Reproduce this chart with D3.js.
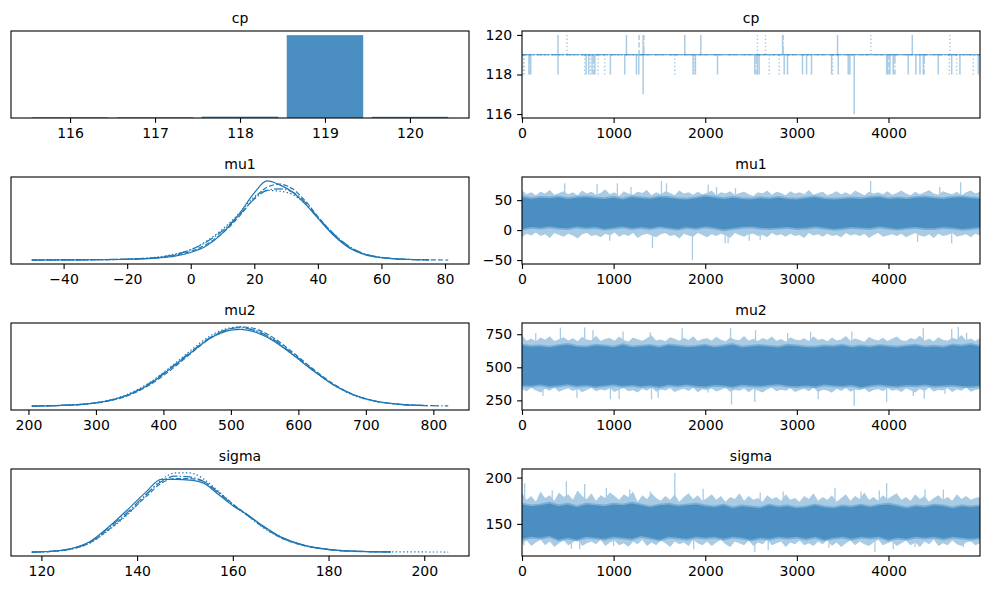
<!DOCTYPE html>
<html>
<head>
<meta charset="utf-8">
<script src="https://cdn.jsdelivr.net/npm/d3@7/dist/d3.min.js"></script>
<style>
body { margin: 0; background: #fff; }
svg { display: block; font-family: "DejaVu Sans", sans-serif; }
</style>
</head>
<body>
<svg width="989" height="590"></svg>
<script>
// ---- data ----
var varNames = ["cp", "mu1", "mu2", "sigma"];

// cp: discrete posterior, share of draws per value
var cpValues = [116, 117, 118, 119, 120];
var cpFreq = [0.008, 0.008, 0.016, 0.97, 0.014];

// cp trace: mostly sits at 119, these are the jumps (iteration, value, chain)
var cpJumpIter = [393, 491, 1140, 1278, 1322, 1330, 1777, 1952, 2570, 2658, 2844, 2850, 3444, 3808, 4260, 4671,
  15, 25, 76, 85, 95, 393, 684, 700, 728, 745, 765, 783, 795, 830, 903, 965, 1121, 1249, 1274, 1668, 1868, 1880,
  1893, 2134, 2541, 2555, 2570, 2588, 2698, 2807, 2862, 2898, 3062, 3106, 3160, 3379, 3390, 3452, 3561, 3579,
  3980, 3990, 4005, 4016, 4052, 4070, 4216, 4300, 4344, 4380, 4390, 4544, 4664, 4690, 4744, 4780, 4926, 4981,
  1322, 3626];
var cpJumpValue = [120, 120, 120, 120, 120, 120, 120, 120, 120, 120, 120, 120, 120, 120, 120, 120,
  118, 118, 118, 118, 118, 118, 118, 118, 118, 118, 118, 118, 118, 118, 118, 118, 118, 118, 118, 118, 118, 118,
  118, 118, 118, 118, 118, 118, 118, 118, 118, 118, 118, 118, 118, 118, 118, 118, 118, 118,
  118, 118, 118, 118, 118, 118, 118, 118, 118, 118, 118, 118, 118, 118, 118, 118, 118, 118,
  117, 116];
var cpJumpChain = [0, 3, 0, 1, 0, 2, 0, 0, 3, 3, 0, 2, 0, 3, 0, 3,
  3, 3, 0, 2, 0, 0, 3, 0, 0, 3, 0, 2, 0, 3, 3, 0, 0, 0, 0, 3, 0, 3,
  0, 0, 0, 2, 0, 0, 3, 3, 0, 0, 0, 0, 0, 0, 3, 0, 0, 0,
  0, 0, 1, 0, 0, 2, 0, 0, 0, 0, 2, 0, 3, 0, 3, 0, 3, 0,
  0, 0];

// kde curves, relative density per chain (null = outside that chain's samples)
var mu1Grid = [-50, -40, -30, -20, -15, -10, -5, 0, 5, 10, 15, 20, 24, 28, 32, 36, 40, 45, 50, 55, 60, 65, 70, 75, 81];
var mu1Chain0 = [0, 0.002, 0.004, 0.01, 0.016, 0.028, 0.05, 0.095, 0.18, 0.34, 0.57, 0.85, 1.0, 0.95, 0.86, 0.71, 0.53, 0.31, 0.15, 0.065, 0.03, 0.013, 0.006, 0.002, null];
var mu1Chain1 = [0, 0.001, 0.004, 0.01, 0.017, 0.03, 0.06, 0.11, 0.2, 0.34, 0.54, 0.78, 0.92, 0.96, 0.9, 0.75, 0.55, 0.33, 0.16, 0.07, 0.032, 0.015, 0.007, 0.003, 0];
var mu1Chain2 = [0, 0.002, 0.005, 0.012, 0.02, 0.035, 0.07, 0.13, 0.23, 0.37, 0.56, 0.77, 0.88, 0.9, 0.86, 0.73, 0.54, 0.33, 0.17, 0.075, 0.034, 0.015, 0.006, 0.002, null];
var mu1Chain3 = [0, 0.002, 0.005, 0.012, 0.022, 0.04, 0.075, 0.13, 0.24, 0.39, 0.58, 0.8, 0.88, 0.87, 0.83, 0.71, 0.53, 0.32, 0.16, 0.072, 0.032, 0.014, 0.006, 0.002, null];

var mu2Grid = [205, 250, 300, 350, 380, 410, 440, 470, 500, 515, 530, 560, 590, 620, 650, 680, 710, 750, 790, 822];
var mu2Chain0 = [0, 0.008, 0.04, 0.15, 0.28, 0.47, 0.67, 0.86, 0.96, 0.97, 0.95, 0.84, 0.66, 0.46, 0.28, 0.15, 0.07, 0.022, 0.005, null];
var mu2Chain1 = [0, 0.008, 0.038, 0.14, 0.27, 0.45, 0.66, 0.86, 0.98, 1.0, 0.99, 0.88, 0.69, 0.48, 0.29, 0.15, 0.07, 0.023, 0.006, null];
var mu2Chain2 = [0, 0.009, 0.042, 0.15, 0.29, 0.48, 0.68, 0.87, 0.98, 0.99, 0.97, 0.86, 0.67, 0.47, 0.28, 0.15, 0.068, 0.022, 0.006, 0.001];
var mu2Chain3 = [0, 0.009, 0.042, 0.16, 0.3, 0.49, 0.7, 0.89, 0.99, 1.0, 0.97, 0.85, 0.66, 0.46, 0.28, 0.14, 0.066, 0.021, 0.005, null];

var sigmaGrid = [118, 122, 126, 130, 134, 138, 142, 145, 148, 151, 154, 157, 160, 163, 166, 170, 175, 180, 185, 193, 200, 205];
var sigmaChain0 = [0, 0.01, 0.04, 0.125, 0.31, 0.53, 0.76, 0.91, 0.91, 0.9, 0.86, 0.72, 0.58, 0.47, 0.34, 0.19, 0.085, 0.034, 0.012, 0.001, null, null];
var sigmaChain1 = [0, 0.008, 0.035, 0.11, 0.28, 0.48, 0.7, 0.86, 0.92, 0.92, 0.88, 0.75, 0.6, 0.47, 0.33, 0.18, 0.08, 0.032, 0.012, 0.002, null, null];
var sigmaChain2 = [0, 0.009, 0.038, 0.12, 0.3, 0.5, 0.73, 0.88, 0.95, 0.94, 0.88, 0.74, 0.59, 0.46, 0.33, 0.19, 0.082, 0.03, 0.01, 0.001, null, null];
var sigmaChain3 = [0, 0.008, 0.034, 0.11, 0.27, 0.47, 0.72, 0.9, 0.99, 0.99, 0.91, 0.76, 0.6, 0.46, 0.32, 0.18, 0.078, 0.03, 0.011, 0.003, 0.001, 0];

// trace bands: outer light fringe (every 50 iterations) and dense core (every 100)
var mu1OuterHi = [66, 60, 63, 58, 64, 61, 67, 59, 62, 65, 60, 63, 58, 66, 61, 64, 59, 62, 68, 60,
  63, 57, 65, 61, 59, 64, 62, 67, 58, 63, 60, 65, 62, 58, 66, 61, 63, 59, 64, 60,
  62, 66, 58, 63, 61, 65, 59, 62, 64, 60, 57, 63, 61, 66, 59, 64, 62, 58, 65, 61,
  63, 60, 67, 59, 62, 64, 58, 61, 65, 60, 63, 59, 66, 62, 58, 64, 61, 63, 60, 65,
  59, 62, 66, 61, 58, 64, 60, 63, 67, 61, 59, 65, 62, 60, 64, 58, 63, 66, 61, 64];
var mu1OuterLo = [-12, -6, -9, -4, -10, -7, -13, -5, -8, -11, -6, -9, -14, -7, -5, -10, -8, -12, -6, -9,
  -4, -11, -7, -10, -5, -13, -8, -6, -9, -12, -7, -5, -10, -8, -14, -6, -9, -11, -5, -8,
  -12, -7, -10, -6, -9, -13, -5, -8, -11, -7, -6, -10, -8, -12, -5, -9, -7, -11, -6, -10,
  -8, -13, -5, -9, -7, -11, -6, -10, -8, -12, -5, -9, -7, -10, -6, -13, -8, -5, -11, -9,
  -7, -10, -6, -12, -8, -5, -9, -11, -7, -13, -6, -10, -8, -5, -11, -9, -7, -12, -6, -9];
var mu1CoreHi = [55, 52, 54, 53, 55, 52, 54, 55, 53, 52, 54, 51, 55, 53, 52, 55, 54, 52, 51, 53, 56, 54, 52, 54, 52, 51, 53, 52, 54, 52, 51, 53, 55, 52, 51, 52, 53, 52, 54, 55, 52, 53, 52, 54, 55, 53, 52, 54, 55, 53, 52];
var mu1CoreLo = [2, 5, 4, 6, 4, 3, 6, 4, 5, 2, 4, 6, 3, 5, 3, 6, 4, 2, 5, 3, 6, 4, 1, 3, 5, 6, 4, 3, 4, 5, 3, 4, 6, 4, 2, 3, 5, 4, 3, 6, 4, 2, 4, 5, 3, 3, 5, 4, 2, 3, 5];
var mu1SpikeIter = [466, 820, 1041, 1190, 1522, 1577, 2032, 2123, 2330, 3805, 4560, 4788, 958, 1424, 1860, 2218, 2250, 2480, 2600, 4318, 4690];
var mu1SpikeValue = [78, 77, 78, 72, 82, 78, 76, 72, 70, 82, 72, 80, -18, -30, -50, -22, -22, -18, -17, -20, -22];

var mu2OuterHi = [740, 700, 718, 695, 725, 708, 735, 698, 712, 728, 702, 720, 696, 730, 710, 705, 738, 699, 715, 722,
  700, 733, 707, 695, 726, 712, 700, 719, 742, 703, 710, 697, 728, 715, 701, 724, 706, 735, 698, 713,
  720, 702, 730, 709, 696, 725, 711, 704, 737, 700, 716, 698, 722, 708, 732, 701, 713, 695, 727, 710,
  704, 719, 699, 734, 707, 715, 697, 725, 703, 711, 736, 700, 718, 706, 694, 729, 712, 702, 724, 698,
  715, 733, 705, 699, 721, 710, 740, 702, 716, 697, 728, 708, 700, 723, 712, 745, 704, 718, 699, 720];
var mu2OuterLo = [335, 318, 345, 325, 310, 338, 322, 348, 315, 330, 342, 320, 336, 312, 328, 346, 318, 333, 324, 340,
  314, 330, 344, 319, 327, 310, 338, 322, 347, 316, 332, 325, 341, 313, 329, 337, 320, 345, 311, 334,
  326, 340, 317, 331, 343, 315, 328, 322, 339, 312, 336, 324, 309, 333, 345, 318, 330, 322, 341, 314,
  327, 338, 319, 346, 313, 330, 324, 308, 337, 321, 344, 316, 332, 326, 340, 312, 329, 335, 318, 343,
  322, 331, 314, 339, 326, 310, 336, 320, 345, 317, 330, 325, 341, 313, 334, 322, 347, 316, 329, 336];
var mu2CoreHi = [665, 655, 660, 650, 662, 670, 655, 652, 664, 660, 650, 668, 652, 658, 662, 650, 666, 660, 652, 656, 664, 650, 660, 670, 650, 658, 662, 655, 650, 665, 660, 652, 650, 660, 656, 664, 650, 660, 652, 662, 656, 650, 660, 664, 652, 658, 650, 666, 660, 670, 656];
var mu2CoreLo = [365, 360, 370, 356, 362, 372, 358, 366, 355, 362, 370, 358, 366, 356, 362, 352, 368, 360, 370, 358, 354, 366, 362, 352, 368, 362, 358, 366, 372, 360, 356, 362, 354, 370, 362, 358, 366, 350, 362, 370, 360, 356, 366, 362, 370, 358, 362, 366, 358, 354, 362];
var mu2SpikeIter = [150, 419, 684, 775, 1103, 1400, 1748, 2276, 2549, 2900, 3150, 3600, 4380, 4690, 4762, 4853,
  229, 600, 965, 1060, 1413, 1486, 2032, 2287, 2541, 3233, 3626, 3980, 4271, 4391, 4617];
var mu2SpikeValue = [760, 800, 800, 780, 770, 765, 795, 795, 780, 760, 770, 770, 795, 790, 805, 760,
  283, 270, 258, 258, 258, 270, 309, 219, 237, 258, 207, 237, 283, 262, 300];

var sigmaOuterHi = [183, 176, 180, 174, 185, 178, 181, 175, 184, 179, 182, 176, 186, 180, 177, 183, 175, 181, 178, 184,
  180, 176, 182, 179, 185, 174, 181, 177, 183, 178, 175, 180, 176, 182, 174, 179, 183, 177, 181, 175,
  178, 182, 176, 180, 174, 179, 177, 183, 175, 180, 176, 178, 174, 181, 177, 179, 175, 182, 176, 178,
  174, 180, 177, 183, 175, 179, 176, 181, 174, 178, 182, 175, 180, 177, 184, 176, 179, 175, 181, 177,
  180, 183, 176, 179, 175, 182, 177, 180, 174, 178, 181, 176, 179, 175, 182, 177, 180, 176, 178, 179];
var sigmaOuterLo = [128, 132, 126, 130, 133, 127, 131, 125, 129, 132, 127, 130, 134, 126, 129, 131, 128, 133, 126, 130,
  132, 127, 129, 125, 131, 128, 133, 126, 130, 127, 132, 129, 125, 131, 128, 130, 126, 133, 129, 127,
  131, 126, 130, 133, 128, 125, 131, 129, 127, 132, 126, 130, 128, 133, 127, 129, 131, 125, 130, 128,
  132, 127, 129, 126, 131, 128, 133, 126, 130, 125, 129, 132, 127, 131, 128, 126, 130, 133, 127, 129,
  131, 126, 129, 132, 127, 130, 125, 131, 128, 133, 126, 129, 127, 132, 128, 126, 130, 131, 127, 129];
var sigmaCoreHi = [171, 169, 170, 172, 169, 171, 168, 171, 170, 169, 171, 170, 172, 170, 168, 170, 171, 169, 170, 171, 169, 168, 170, 167, 169, 168, 167, 170, 168, 169, 167, 168, 170, 168, 167, 169, 168, 170, 168, 170, 171, 169, 167, 169, 168, 170, 169, 167, 169, 168, 169];
var sigmaCoreLo = [134, 136, 135, 137, 133, 135, 133, 136, 135, 134, 136, 135, 134, 137, 135, 133, 136, 135, 134, 136, 135, 136, 134, 136, 135, 133, 135, 134, 136, 135, 136, 134, 136, 133, 135, 136, 134, 136, 135, 136, 133, 135, 134, 136, 135, 136, 134, 136, 135, 134, 135];
var sigmaSpikeIter = [29, 330, 484, 684, 921, 1176, 1400, 1668, 1977, 2600, 2850, 3416, 3700, 3900, 3980, 4398, 4599,
  20, 539, 630, 1000, 1875, 2541, 2687, 3350, 3852, 4052, 4289, 4817];
var sigmaSpikeValue = [194, 186, 196, 193, 189, 187, 185, 205, 188, 184, 185, 189, 185, 186, 194, 187, 187,
  127, 123, 122.5, 126, 122.5, 119.6, 121.8, 124.3, 119.6, 122.5, 125, 125];

// tick labels
var cpDensTicks = [116, 117, 118, 119, 120];
var mu1DensTicks = [-40, -20, 0, 20, 40, 60, 80];
var mu2DensTicks = [200, 300, 400, 500, 600, 700, 800];
var sigmaDensTicks = [120, 140, 160, 180, 200];
var iterTicks = [0, 1000, 2000, 3000, 4000];
var cpTraceTicks = [116, 118, 120];
var mu1TraceTicks = [-50, 0, 50];
var mu2TraceTicks = [250, 500, 750];
var sigmaTraceTicks = [150, 200];

var nDraws = 5000;

// ---- layout ----
var rowTop = [31, 177, 323, 469];
var axH = 87;
var leftX = 11, rightX = 522, axW = 458;

var C0 = "#1f77b4";
var coreColor = "#4b8fc2";
var midColor = "#7aaed6";
var lightColor = "#a9cbe4";
var dashes = ["none", "5.1,2.2", "8.9,2.2,1.4,2.2", "1.4,2.3"];

var svg = d3.select("svg");

var fmt = function(d) { return String(d).replace("-", "\u2212"); };

var padded = function(lo, hi) {
  var r = hi - lo;
  return [lo - 0.05 * r, hi + 0.05 * r];
};

var styleAxis = function(g) {
  g.selectAll("path").remove();
  g.selectAll("line").attr("stroke", "#000").attr("stroke-width", 1.1);
  g.selectAll("text").attr("font-size", "14px").attr("fill", "#000")
    .attr("font-family", "DejaVu Sans, sans-serif");
};

var frame = function(x, y) {
  svg.append("rect")
    .attr("x", x).attr("y", y)
    .attr("width", axW).attr("height", axH)
    .attr("fill", "none").attr("stroke", "#000").attr("stroke-width", 1.1);
};

var title = function(x, y, txt) {
  svg.append("text")
    .attr("x", x + axW / 2).attr("y", y - 8.5)
    .attr("text-anchor", "middle")
    .attr("font-size", "14px")
    .text(txt);
};

var bottomAxis = function(scale, ticks, y) {
  svg.append("g")
    .attr("transform", "translate(0," + (y + axH) + ")")
    .call(d3.axisBottom(scale).tickValues(ticks).tickFormat(fmt).tickSize(4.9).tickPadding(4.9).tickSizeOuter(0))
    .call(styleAxis);
};

var leftAxis = function(scale, ticks, x) {
  svg.append("g")
    .attr("transform", "translate(" + x + ",0)")
    .call(d3.axisLeft(scale).tickValues(ticks).tickFormat(fmt).tickSize(4.9).tickPadding(4.9).tickSizeOuter(0))
    .call(styleAxis);
};

// ---- left column: densities ----
var drawDensity = function(row, grid, chains, ticks) {
  var top = rowTop[row];
  var x = d3.scaleLinear().domain(padded(grid[0], grid[grid.length - 1])).range([leftX, leftX + axW]);
  var ymax = d3.max(chains, function(c) { return d3.max(c); });
  var y = d3.scaleLinear().domain([-0.05 * ymax, 1.05 * ymax]).range([top + axH, top]);

  var line = d3.line()
    .defined(function(d) { return d[1] != null; })
    .x(function(d) { return x(d[0]); })
    .y(function(d) { return y(d[1]); })
    .curve(d3.curveMonotoneX);

  chains.forEach(function(c, i) {
    var pts = grid.map(function(g, j) { return [g, c[j]]; });
    svg.append("path")
      .attr("d", line(pts))
      .attr("fill", "none")
      .attr("stroke", C0)
      .attr("stroke-width", 1.2)
      .attr("stroke-dasharray", dashes[i]);
  });

  bottomAxis(x, ticks, top);
  frame(leftX, top);
  title(leftX, top, varNames[row]);
};

var drawBars = function(row) {
  var top = rowTop[row];
  var x = d3.scaleLinear().domain(padded(cpValues[0] - 0.45, cpValues[cpValues.length - 1] + 0.45)).range([leftX, leftX + axW]);
  var y = d3.scaleLinear().domain([0, 1.05 * d3.max(cpFreq)]).range([top + axH, top]);

  svg.selectAll("rect.bar")
    .data(cpValues)
    .enter()
    .append("rect")
    .attr("class", "bar")
    .attr("x", function(d) { return x(d - 0.45); })
    .attr("width", function(d) { return x(d + 0.45) - x(d - 0.45); })
    .attr("y", function(d, i) { return y(cpFreq[i]); })
    .attr("height", function(d, i) { return y(0) - y(cpFreq[i]); })
    .attr("fill", coreColor);

  bottomAxis(x, cpDensTicks, top);
  frame(leftX, top);
  title(leftX, top, varNames[row]);
};

// ---- right column: traces ----
var iterX = d3.scaleLinear().domain([0, nDraws - 1]).range([rightX, rightX + axW]);

var clip = function(row) {
  var id = "clip" + row;
  svg.append("clipPath").attr("id", id)
    .append("rect")
    .attr("x", rightX).attr("y", rowTop[row])
    .attr("width", axW).attr("height", axH);
  return "url(#" + id + ")";
};

// band across all draws, sample points spread evenly over the iterations
var band = function(y, hi, lo) {
  var step = (nDraws - 1) / (hi.length - 1);
  return d3.area()
    .x(function(d, i) { return iterX(i * step); })
    .y0(function(d, i) { return y(lo[i]); })
    .y1(function(d) { return y(d); })(hi);
};

var drawTrace = function(row, outerHi, outerLo, coreHi, coreLo, spikeIter, spikeValue, ticks) {
  var top = rowTop[row];
  var all = outerHi.concat(outerLo, spikeValue);
  var y = d3.scaleLinear().domain(padded(d3.min(all), d3.max(all))).range([top + axH, top]);
  var g = svg.append("g").attr("clip-path", clip(row));

  g.append("path").attr("d", band(y, outerHi, outerLo)).attr("fill", lightColor);

  var mid = d3.median(coreHi.concat(coreLo));
  g.selectAll("line.spike")
    .data(spikeIter)
    .enter()
    .append("line")
    .attr("x1", function(d) { return iterX(d); })
    .attr("x2", function(d) { return iterX(d); })
    .attr("y1", y(mid))
    .attr("y2", function(d, i) { return y(spikeValue[i]); })
    .attr("stroke", lightColor)
    .attr("stroke-width", 1.3);

  // softer edge round the dense core
  g.append("path").attr("d", band(y, coreHi, coreLo))
    .attr("fill", coreColor)
    .attr("stroke", midColor)
    .attr("stroke-width", 3.5)
    .attr("stroke-linejoin", "round");
  g.append("path").attr("d", band(y, coreHi, coreLo)).attr("fill", coreColor);

  bottomAxis(iterX, iterTicks, top);
  leftAxis(y, ticks, rightX);
  frame(rightX, top);
  title(rightX, top, varNames[row]);
};

var drawCpTrace = function(row) {
  var top = rowTop[row];
  var y = d3.scaleLinear().domain(padded(d3.min(cpValues), d3.max(cpValues))).range([top + axH, top]);
  var g = svg.append("g").attr("clip-path", clip(row));

  g.selectAll("line.jump")
    .data(cpJumpIter)
    .enter()
    .append("line")
    .attr("x1", function(d) { return iterX(d); })
    .attr("x2", function(d) { return iterX(d); })
    .attr("y1", y(119))
    .attr("y2", function(d, i) { return y(cpJumpValue[i]); })
    .attr("stroke", lightColor)
    .attr("stroke-width", 1.5)
    .attr("stroke-dasharray", function(d, i) { return dashes[cpJumpChain[i]]; });

  dashes.forEach(function(ds) {
    g.append("line")
      .attr("x1", iterX(0)).attr("x2", iterX(nDraws - 1))
      .attr("y1", y(119)).attr("y2", y(119))
      .attr("stroke", C0).attr("stroke-opacity", 0.45)
      .attr("stroke-width", 1.2)
      .attr("stroke-dasharray", ds);
  });

  bottomAxis(iterX, iterTicks, top);
  leftAxis(y, cpTraceTicks, rightX);
  frame(rightX, top);
  title(rightX, top, varNames[row]);
};

drawBars(0);
drawDensity(1, mu1Grid, [mu1Chain0, mu1Chain1, mu1Chain2, mu1Chain3], mu1DensTicks);
drawDensity(2, mu2Grid, [mu2Chain0, mu2Chain1, mu2Chain2, mu2Chain3], mu2DensTicks);
drawDensity(3, sigmaGrid, [sigmaChain0, sigmaChain1, sigmaChain2, sigmaChain3], sigmaDensTicks);

drawCpTrace(0);
drawTrace(1, mu1OuterHi, mu1OuterLo, mu1CoreHi, mu1CoreLo, mu1SpikeIter, mu1SpikeValue, mu1TraceTicks);
drawTrace(2, mu2OuterHi, mu2OuterLo, mu2CoreHi, mu2CoreLo, mu2SpikeIter, mu2SpikeValue, mu2TraceTicks);
drawTrace(3, sigmaOuterHi, sigmaOuterLo, sigmaCoreHi, sigmaCoreLo, sigmaSpikeIter, sigmaSpikeValue, sigmaTraceTicks);
</script>
</body>
</html>
